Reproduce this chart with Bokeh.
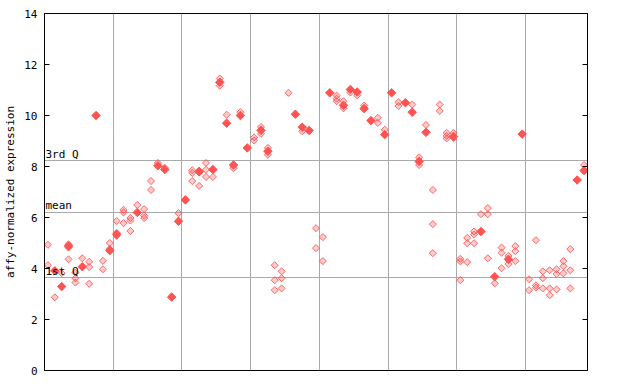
import math
from bokeh.plotting import figure
from bokeh.models import Range1d, LinearAxis, FixedTicker, ColumnDataSource
from bokeh.core.properties import value
from bokeh.embed import file_html
from bokeh.resources import INLINE

# sample columns (0..78) and expression values
open_col = [0, 0, 1, 2, 3, 3, 3, 4, 4, 4, 5, 6, 6, 6, 8, 8, 9, 9, 9,
            10, 10, 10, 11, 11, 11, 12, 12, 12, 13, 14, 14, 14, 15, 15, 16, 17, 19,
            21, 21, 21, 22, 22, 22, 23, 23, 23, 24, 25, 25, 25, 26, 27, 28, 30, 30,
            31, 31, 32, 32, 33, 33, 33, 34, 34, 34, 35, 37, 39, 39, 40, 40,
            42, 42, 42, 43, 43, 44, 45, 46, 48, 48, 49, 51, 51, 53, 54, 54, 55,
            56, 56, 56, 57, 57, 58, 58, 58, 59, 59,
            60, 60, 60, 61, 61, 61, 62, 62, 62, 63, 64, 64, 64, 65, 66, 66, 66,
            67, 67, 68, 68, 68, 70, 70, 71, 71, 71, 72, 72, 72, 73, 73, 73,
            74, 74, 74, 75, 75, 75, 76, 76, 76, 78]
open_val = [4.93, 4.13, 2.87, 3.82, 4.95, 4.82, 4.36, 3.84, 3.62, 3.45, 4.40, 4.26, 4.06, 3.40, 4.30, 3.97, 5.00, 4.76, 4.67,
            5.86, 5.40, 5.28, 6.30, 6.20, 5.78, 5.98, 5.88, 5.47, 6.49, 6.33, 6.07, 5.98, 7.43, 7.08, 8.14, 7.95, 6.17,
            7.85, 7.75, 7.43, 7.84, 7.76, 7.24, 8.14, 7.87, 7.59, 7.59, 11.45, 11.30, 11.17, 10.03, 7.93, 10.13, 9.14, 9.02,
            9.55, 9.28, 8.73, 8.46, 4.13, 3.54, 3.15, 3.89, 3.62, 3.22, 10.89, 9.38, 5.58, 4.80, 5.23, 4.29,
            10.78, 10.66, 10.56, 10.56, 10.28, 10.90, 10.79, 10.39, 9.91, 9.71, 9.44, 10.52, 10.37, 10.43, 8.36, 8.06, 9.63,
            7.08, 5.74, 4.60, 10.43, 10.18, 9.32, 9.20, 9.10, 9.32, 9.12,
            4.38, 4.28, 3.54, 5.20, 4.99, 4.25, 5.45, 5.33, 4.99, 6.13, 6.37, 6.13, 4.40, 3.42, 4.82, 4.62, 4.01,
            4.49, 4.17, 4.88, 4.68, 4.29, 3.58, 3.15, 5.11, 3.34, 3.25, 3.89, 3.62, 3.22, 3.93, 3.22, 2.95,
            3.97, 3.78, 3.18, 4.29, 4.09, 3.81, 4.76, 3.93, 3.22, 8.06]

solid_col = [1, 2, 3, 5, 7, 9, 10, 13, 16, 17, 18, 19, 20, 22, 24, 25, 26, 27, 28, 29,
             31, 32, 36, 37, 38, 41, 43, 44, 45, 46, 47, 49, 50, 52, 53, 54, 55, 59,
             63, 65, 67, 69, 77, 78]
solid_val = [3.91, 3.29, 4.88, 4.07, 10.00, 4.72, 5.34, 6.20, 8.03, 7.88, 2.88, 5.85, 6.69, 7.80, 7.88, 11.30, 9.70, 8.06, 10.00, 8.73,
             9.42, 8.60, 10.05, 9.54, 9.41, 10.89, 10.40, 11.02, 10.92, 10.27, 9.80, 9.25, 10.89, 10.50, 10.13, 8.20, 9.34, 9.18,
             5.45, 3.68, 4.36, 9.27, 7.47, 7.84]

y_ticks = [0, 2, 4, 6, 8, 10, 12, 14]
group_bounds = [9.5, 19.5, 29.5, 39.5, 49.5, 59.5, 69.5]
stat_names = ["1st Q", "mean", "3rd Q"]
stat_vals = [3.63, 6.21, 8.23]

RED = "#ff5252"
MONO = "DejaVu Sans Mono"

p = figure(width=640, height=384, output_backend="svg", toolbar_location=None,
           x_range=Range1d(-0.5, 78.5), y_range=Range1d(0, 14),
           min_border_left=44, min_border_right=53, min_border_top=13, min_border_bottom=14)
p.background_fill_color = "white"
p.border_fill_color = "white"
p.outline_line_color = "black"
p.outline_line_width = 1
p.outline_line_alpha = 1

p.xaxis.visible = False
p.xgrid.ticker = FixedTicker(ticks=group_bounds)
p.ygrid.ticker = FixedTicker(ticks=stat_vals)
for g in (p.xgrid, p.ygrid):
    g.grid_line_color = "#aaaaaa"
    g.grid_line_width = 1

ya = p.yaxis[0]
ya.ticker = FixedTicker(ticks=y_ticks)
ya.axis_label = "affy-normalized expression"
ya.axis_label_text_font = MONO
ya.axis_label_text_font_size = "11px"
ya.axis_label_text_font_style = "normal"
ya.axis_label_text_color = "black"
ya.axis_label_standoff = 4
ya.major_label_text_font = MONO
ya.major_label_text_font_size = "11px"
ya.major_label_text_color = "black"
ya.major_label_standoff = 7
ya.major_tick_in = 5
ya.major_tick_out = 0
ya.minor_tick_line_color = None
ya.axis_line_color = "black"
ya.major_tick_line_color = "black"

ra = LinearAxis(ticker=FixedTicker(ticks=y_ticks), major_label_text_color=None,
                major_tick_in=5, major_tick_out=0, minor_tick_line_color=None,
                axis_line_color="black", major_tick_line_color="black",
                major_label_text_font_size="1px", major_label_standoff=0)
p.add_layout(ra, "right")

p.scatter(open_col, open_val, marker="square", size=5, angle=math.pi / 4,
          fill_color=RED, fill_alpha=0.3, line_color=RED, line_width=1, line_alpha=0.85)
p.scatter(solid_col, solid_val, marker="square", size=6, angle=math.pi / 4,
          fill_color=RED, fill_alpha=1.0, line_color=RED, line_width=1)

src = ColumnDataSource(dict(x=[-0.5] * len(stat_vals), y=stat_vals, t=stat_names))
p.text(x="x", y="y", text="t", source=src, text_font=value(MONO), text_font_size="11px",
       text_color="black", text_baseline="bottom", text_align="left", x_offset=1, y_offset=0)

open("out.html", "w").write(file_html(p, INLINE))
